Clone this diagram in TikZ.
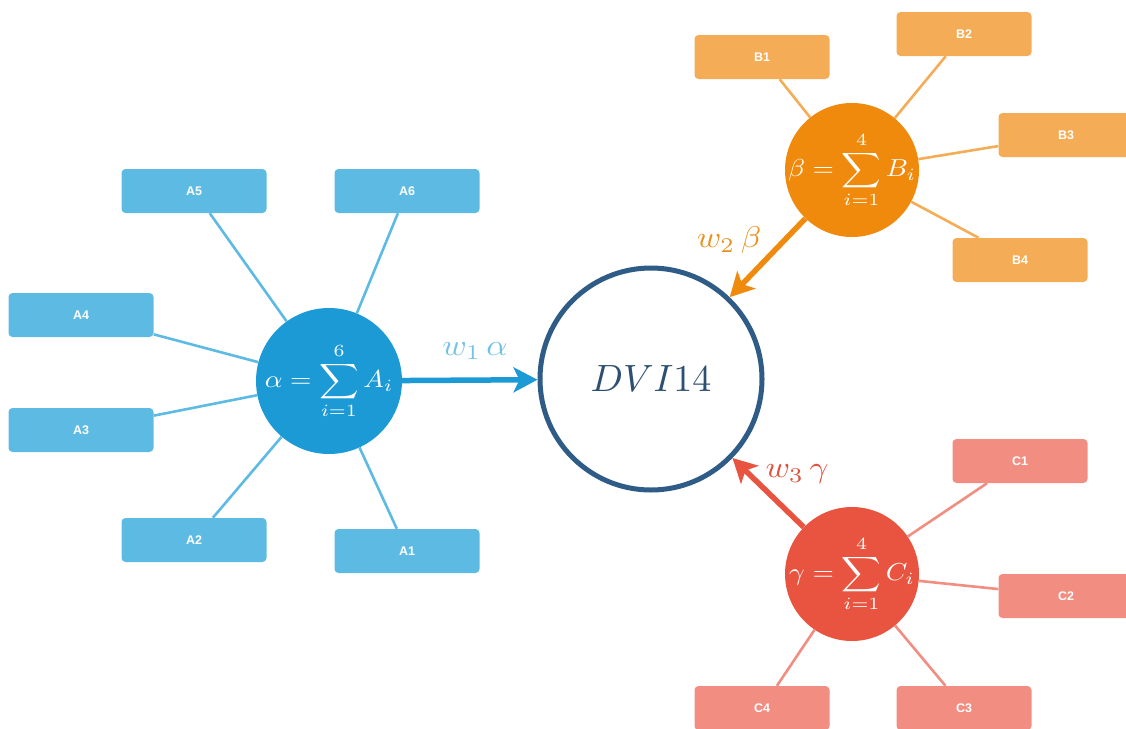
\documentclass[tikz,border=0pt]{standalone}
\usepackage{fontspec}
\setsansfont{Liberation Sans}
\usepackage{graphicx}
\usetikzlibrary{arrows.meta}
\definecolor{acirc}{HTML}{1B9AD6}
\definecolor{abox}{HTML}{5DBBE3}
\definecolor{alab}{HTML}{72C2E5}
\definecolor{bcirc}{HTML}{EF8A0C}
\definecolor{bbox}{HTML}{F4AD56}
\definecolor{blab}{HTML}{E8921E}
\definecolor{ccirc}{HTML}{E8543F}
\definecolor{cbox}{HTML}{F18D81}
\definecolor{clab}{HTML}{E0503C}
\definecolor{dviline}{HTML}{2E5C86}
\definecolor{dvitext}{HTML}{2D4F72}
\newcommand{\hubmath}[1]{\scalebox{2.75}[2.45]{$\displaystyle #1$}}
\newcommand{\wmath}[1]{\scalebox{3.3}[3.0]{$#1$}}
\begin{document}
\begin{tikzpicture}[x=1pt,y=-1pt,
  hub/.style={circle,minimum size=#1,inner sep=0pt},
  hubtext/.style={text=white,inner sep=0pt},
  leaf/.style={rectangle,rounded corners=4pt,minimum width=145pt,minimum height=44pt,inner sep=0pt,fill=#1,text=white,font=\sffamily\bfseries\fontsize{12.5}{14}\selectfont},
  spoke/.style={draw=#1,line width=2.6pt},
  feed/.style={draw=#1,line width=5.5pt,-{Stealth[length=24pt,width=25pt,inset=6pt]}},
  wlab/.style={text=#1}]
\useasboundingbox (0,0) rectangle (1126,728);

% hubs
\node[hub=146pt,fill=acirc,label={[hubtext]center:\hubmath{\alpha=\sum_{i=1}^{6}A_i}}] (alpha) at (329,381) {};
\node[hub=134pt,fill=bcirc,label={[hubtext]center:\hubmath{\beta=\sum_{i=1}^{4}B_i}}] (beta) at (852,170) {};
\node[hub=134pt,fill=ccirc,label={[hubtext]center:\hubmath{\gamma=\sum_{i=1}^{4}C_i}}] (gamma) at (852,574) {};
\node[circle,draw=dviline,line width=5pt,minimum size=222pt,inner sep=0pt,text=dvitext] (dvi) at (651,379) {\scalebox{3.8}{$DVI14$}};

% leaves
\node[leaf=abox] (A5) at (194,191) {A5};
\node[leaf=abox] (A6) at (407,191) {A6};
\node[leaf=abox] (A4) at (81,315) {A4};
\node[leaf=abox] (A3) at (81,430) {A3};
\node[leaf=abox] (A2) at (194,540) {A2};
\node[leaf=abox] (A1) at (407,551) {A1};

\node[leaf=bbox,minimum width=135pt] (B1) at (762,57) {B1};
\node[leaf=bbox,minimum width=135pt] (B2) at (964,34) {B2};
\node[leaf=bbox,minimum width=135pt] (B3) at (1066,135) {B3};
\node[leaf=bbox,minimum width=135pt] (B4) at (1020,260) {B4};

\node[leaf=cbox,minimum width=135pt] (C1) at (1020,461) {C1};
\node[leaf=cbox,minimum width=135pt] (C2) at (1066,596) {C2};
\node[leaf=cbox,minimum width=135pt] (C3) at (964,708) {C3};
\node[leaf=cbox,minimum width=135pt] (C4) at (762,708) {C4};

% spokes
\foreach \n in {A1,A2,A3,A4,A5,A6} \draw[spoke=abox] (alpha) -- (\n);
\foreach \n in {B1,B2,B3,B4} \draw[spoke=bbox] (beta) -- (\n);
\foreach \n in {C1,C2,C3,C4} \draw[spoke=cbox] (gamma) -- (\n);

% weighted feeds
\draw[feed=acirc] (alpha) -- (dvi);
\draw[feed=bcirc] (beta) -- (dvi);
\draw[feed=ccirc] (gamma) -- (dvi);

\node[wlab=alab] (l1) at (475,351) {\wmath{w_1\,\alpha}};
\node[wlab=blab] (l2) at (729,240) {\wmath{w_2\,\beta}};
\node[wlab=clab] (l3) at (797,474) {\wmath{w_3\,\gamma}};
\end{tikzpicture}
\end{document}
